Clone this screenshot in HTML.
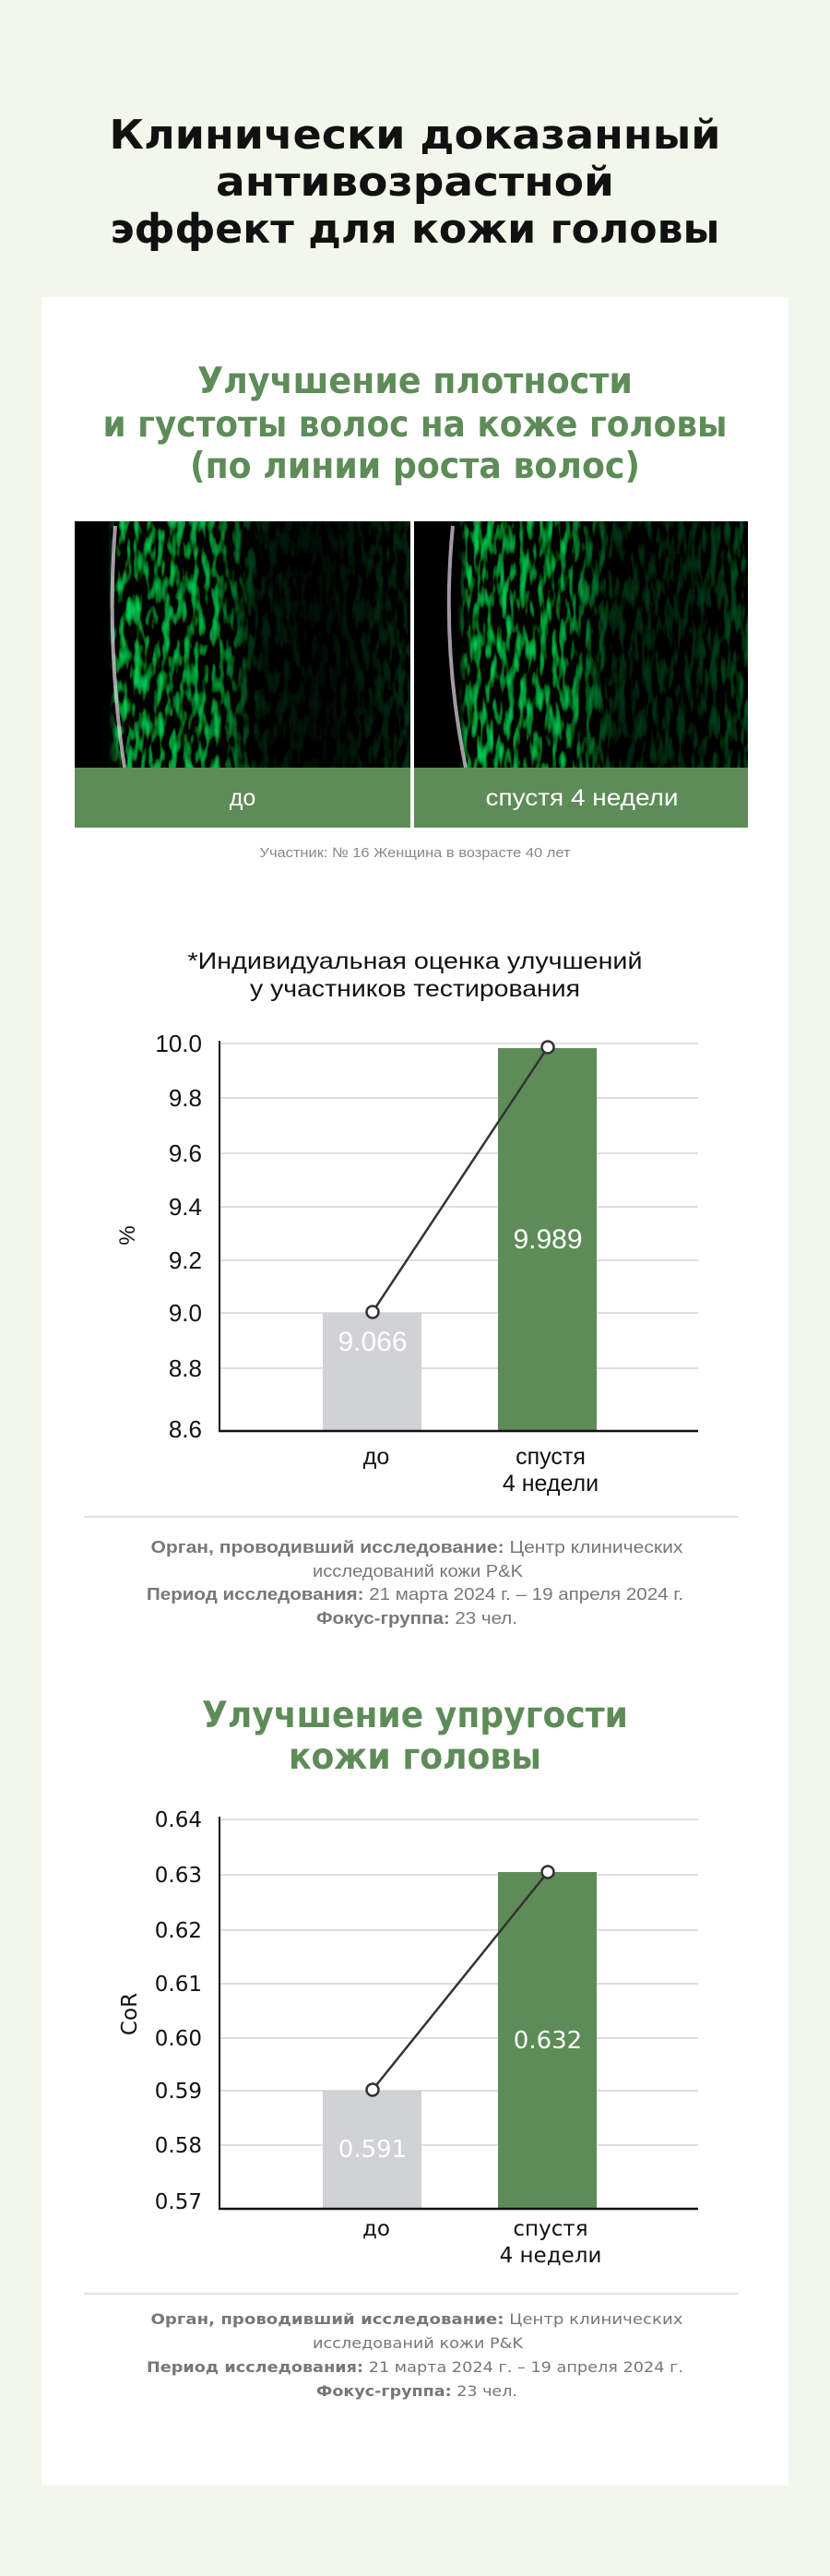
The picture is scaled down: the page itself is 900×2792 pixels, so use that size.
<!DOCTYPE html>
<html><head><meta charset="utf-8"><style>
html,body{margin:0;padding:0;background:#f1f7ea;}
svg{display:block}
</style></head><body>
<svg width="900" height="2792" viewBox="0 0 900 2792" xmlns="http://www.w3.org/2000/svg">
<defs>
<filter id="tex" x="0" y="0" width="100%" height="100%">
<feTurbulence type="fractalNoise" baseFrequency="0.13 0.04" numOctaves="2" seed="4"/>
<feColorMatrix type="matrix" values="0 0 0 0 0  3.2 0 0 0 -1.5  0.5 0 0 0 -0.25  0 0 0 0 1"/>
</filter>
<filter id="tex2" x="0" y="0" width="100%" height="100%">
<feTurbulence type="fractalNoise" baseFrequency="0.14 0.035" numOctaves="2" seed="9"/>
<feColorMatrix type="matrix" values="0 0 0 0 0  3.2 0 0 0 -1.5  0.5 0 0 0 -0.25  0 0 0 0 1"/>
</filter>
<linearGradient id="m1" x1="0" x2="1" y1="0" y2="0">
<stop offset="0" stop-color="#000"/><stop offset="0.1" stop-color="#000"/>
<stop offset="0.13" stop-color="#ccc"/><stop offset="0.42" stop-color="#bbb"/>
<stop offset="0.55" stop-color="#222"/><stop offset="0.75" stop-color="#111"/>
<stop offset="1" stop-color="#333"/></linearGradient>
<linearGradient id="m2" x1="0" x2="1" y1="0" y2="0">
<stop offset="0" stop-color="#000"/><stop offset="0.13" stop-color="#000"/>
<stop offset="0.16" stop-color="#ccc"/><stop offset="0.46" stop-color="#bbb"/>
<stop offset="0.6" stop-color="#333"/><stop offset="0.85" stop-color="#333"/>
<stop offset="1" stop-color="#555"/></linearGradient>
<mask id="mk1"><rect x="81" y="565" width="364" height="267" fill="url(#m1)"/></mask>
<mask id="mk2"><rect x="449" y="565" width="362" height="267" fill="url(#m2)"/></mask>
</defs>
<rect width="900" height="2792" fill="#f1f7ea"/>
<rect x="45" y="322" width="810" height="2372" fill="#fff"/>

<g font-family="DejaVu Sans, Liberation Sans, sans-serif" font-weight="bold" text-anchor="middle">
<text x="450" y="161" font-size="44" fill="#111" textLength="663" lengthAdjust="spacingAndGlyphs">Клинически доказанный</text>
<text x="450" y="212" font-size="44" fill="#111" textLength="432" lengthAdjust="spacingAndGlyphs">антивозрастной</text>
<text x="450" y="263" font-size="44" fill="#111" textLength="661" lengthAdjust="spacingAndGlyphs">эффект для кожи головы</text>
<text x="450" y="426" font-size="39" fill="#5e8c58" textLength="472" lengthAdjust="spacingAndGlyphs">Улучшение плотности</text>
<text x="450" y="473" font-size="39" fill="#5e8c58" textLength="677" lengthAdjust="spacingAndGlyphs">и густоты волос на коже головы</text>
<text x="450" y="518" font-size="39" fill="#5e8c58" textLength="488" lengthAdjust="spacingAndGlyphs">(по линии роста волос)</text>
<text x="450" y="1872" font-size="39" fill="#5e8c58" textLength="462" lengthAdjust="spacingAndGlyphs">Улучшение упругости</text>
<text x="450" y="1917" font-size="39" fill="#5e8c58" textLength="274" lengthAdjust="spacingAndGlyphs">кожи головы</text>
</g>

<!-- images -->
<rect x="81" y="565" width="364" height="267" fill="#000"/>
<rect x="81" y="565" width="364" height="267" filter="url(#tex)" mask="url(#mk1)"/>
<rect x="449" y="565" width="362" height="267" fill="#000"/>
<rect x="449" y="565" width="362" height="267" filter="url(#tex2)" mask="url(#mk2)"/>
<path d="M125 570 Q115 700 135 832" stroke="#e8d8e8" stroke-width="4" fill="none" opacity="0.7"/>
<path d="M491 570 Q478 700 505 832" stroke="#e8d8e8" stroke-width="4" fill="none" opacity="0.7"/>
<rect x="81" y="832" width="364" height="65" fill="#5e8c58"/>
<rect x="449" y="832" width="362" height="65" fill="#5e8c58"/>
<g font-family="Liberation Sans, DejaVu Sans, sans-serif" text-anchor="middle" fill="#fff" font-size="25">
<text x="263" y="873">до</text>
<text x="631" y="873" textLength="209" lengthAdjust="spacingAndGlyphs">спустя 4 недели</text>
</g>
<text x="450" y="929" font-family="Liberation Sans, sans-serif" font-size="15" fill="#888" text-anchor="middle" textLength="337" lengthAdjust="spacingAndGlyphs">Участник: № 16 Женщина в возрасте 40 лет</text>

<!-- chart 1 -->
<g font-family="Liberation Sans, DejaVu Sans, sans-serif" text-anchor="middle" fill="#111" font-size="25">
<text x="450" y="1050" textLength="493" lengthAdjust="spacingAndGlyphs">*Индивидуальная оценка улучшений</text>
<text x="450" y="1080" textLength="358" lengthAdjust="spacingAndGlyphs">у участников тестирования</text>
</g>
<g stroke="#dedede" stroke-width="2">
<line x1="238" x2="757" y1="1131" y2="1131"/><line x1="238" x2="757" y1="1190" y2="1190"/>
<line x1="238" x2="757" y1="1250" y2="1250"/><line x1="238" x2="757" y1="1308" y2="1308"/>
<line x1="238" x2="757" y1="1366" y2="1366"/><line x1="238" x2="757" y1="1423" y2="1423"/>
<line x1="238" x2="757" y1="1483" y2="1483"/>
</g>
<rect x="350" y="1423" width="107" height="128" fill="#d1d2d6"/>
<rect x="540" y="1136" width="107" height="415" fill="#5e8c58"/>
<line x1="238" y1="1128" x2="238" y2="1552" stroke="#111" stroke-width="2"/>
<line x1="237" y1="1551" x2="757" y2="1551" stroke="#111" stroke-width="2.5"/>
<g font-family="Liberation Sans, DejaVu Sans, sans-serif" font-size="26" fill="#111" text-anchor="end">
<text x="219" y="1140">10.0</text><text x="219" y="1199">9.8</text><text x="219" y="1259">9.6</text>
<text x="219" y="1317">9.4</text><text x="219" y="1375">9.2</text><text x="219" y="1432">9.0</text>
<text x="219" y="1492">8.8</text><text x="219" y="1558">8.6</text>
</g>
<text transform="translate(146,1339) rotate(-90)" font-family="Liberation Sans, sans-serif" font-size="24" text-anchor="middle" fill="#111">%</text>
<text x="404" y="1464" font-family="Liberation Sans, sans-serif" font-size="30" fill="#fff" text-anchor="middle">9.066</text>
<text x="594" y="1353" font-family="Liberation Sans, sans-serif" font-size="30" fill="#fff" text-anchor="middle">9.989</text>
<line x1="404" y1="1422" x2="594" y2="1135" stroke="#333" stroke-width="2.5"/>
<circle cx="404" cy="1422" r="6.5" fill="#fff" stroke="#333" stroke-width="2.5"/>
<circle cx="594" cy="1135" r="6.5" fill="#fff" stroke="#333" stroke-width="2.5"/>
<g font-family="Liberation Sans, DejaVu Sans, sans-serif" font-size="25" fill="#111" text-anchor="middle">
<text x="408" y="1587">до</text><text x="597" y="1587">спустя</text><text x="597" y="1616">4 недели</text>
</g>
<line x1="91" x2="801" y1="1644" y2="1644" stroke="#d8d8d8" stroke-width="1.5"/>
<g font-family="Liberation Sans, DejaVu Sans, sans-serif" font-size="18" fill="#777" text-anchor="middle">
<text x="452" y="1683" textLength="577" lengthAdjust="spacingAndGlyphs"><tspan font-weight="bold">Орган, проводивший исследование:</tspan> Центр клинических</text>
<text x="453" y="1709" textLength="228" lengthAdjust="spacingAndGlyphs">исследований кожи P&amp;K</text>
<text x="450" y="1734" textLength="582" lengthAdjust="spacingAndGlyphs"><tspan font-weight="bold">Период исследования:</tspan> 21 марта 2024 г. – 19 апреля 2024 г.</text>
<text x="452" y="1760" textLength="218" lengthAdjust="spacingAndGlyphs"><tspan font-weight="bold">Фокус-группа:</tspan> 23 чел.</text>
</g>

<!-- chart 2 -->
<g stroke="#dedede" stroke-width="2">
<line x1="238" x2="757" y1="1972" y2="1972"/><line x1="238" x2="757" y1="2032" y2="2032"/>
<line x1="238" x2="757" y1="2092" y2="2092"/><line x1="238" x2="757" y1="2150" y2="2150"/>
<line x1="238" x2="757" y1="2209" y2="2209"/><line x1="238" x2="757" y1="2266" y2="2266"/>
<line x1="238" x2="757" y1="2325" y2="2325"/>
</g>
<rect x="350" y="2266" width="107" height="128" fill="#d1d2d6"/>
<rect x="540" y="2029" width="107" height="365" fill="#5e8c58"/>
<line x1="238" y1="1969" x2="238" y2="2395" stroke="#111" stroke-width="2"/>
<line x1="237" y1="2394" x2="757" y2="2394" stroke="#111" stroke-width="2.5"/>
<g font-family="DejaVu Sans, Liberation Sans, sans-serif" font-size="23" fill="#111" text-anchor="end">
<text x="219" y="1980">0.64</text><text x="219" y="2040">0.63</text><text x="219" y="2100">0.62</text>
<text x="219" y="2158">0.61</text><text x="219" y="2217">0.60</text><text x="219" y="2274">0.59</text>
<text x="219" y="2333">0.58</text><text x="219" y="2394">0.57</text>
</g>
<text transform="translate(148,2183) rotate(-90)" font-family="DejaVu Sans, sans-serif" font-size="23" text-anchor="middle" fill="#111">CoR</text>
<text x="404" y="2338" font-family="DejaVu Sans, sans-serif" font-size="26" fill="#fff" text-anchor="middle">0.591</text>
<text x="594" y="2220" font-family="DejaVu Sans, sans-serif" font-size="26" fill="#fff" text-anchor="middle">0.632</text>
<line x1="404" y1="2265" x2="594" y2="2029" stroke="#333" stroke-width="2.5"/>
<circle cx="404" cy="2265" r="6.5" fill="#fff" stroke="#333" stroke-width="2.5"/>
<circle cx="594" cy="2029" r="6.5" fill="#fff" stroke="#333" stroke-width="2.5"/>
<g font-family="DejaVu Sans, Liberation Sans, sans-serif" font-size="23" fill="#111" text-anchor="middle">
<text x="408" y="2423">до</text><text x="597" y="2423">спустя</text><text x="597" y="2452">4 недели</text>
</g>
<line x1="91" x2="801" y1="2486" y2="2486" stroke="#d8d8d8" stroke-width="1.5"/>
<g font-family="DejaVu Sans, Liberation Sans, sans-serif" font-size="16" fill="#777" text-anchor="middle">
<text x="452" y="2519" textLength="577" lengthAdjust="spacingAndGlyphs"><tspan font-weight="bold">Орган, проводивший исследование:</tspan> Центр клинических</text>
<text x="453" y="2545" textLength="228" lengthAdjust="spacingAndGlyphs">исследований кожи P&amp;K</text>
<text x="450" y="2571" textLength="582" lengthAdjust="spacingAndGlyphs"><tspan font-weight="bold">Период исследования:</tspan> 21 марта 2024 г. – 19 апреля 2024 г.</text>
<text x="452" y="2597" textLength="218" lengthAdjust="spacingAndGlyphs"><tspan font-weight="bold">Фокус-группа:</tspan> 23 чел.</text>
</g>
</svg>
</body></html>
